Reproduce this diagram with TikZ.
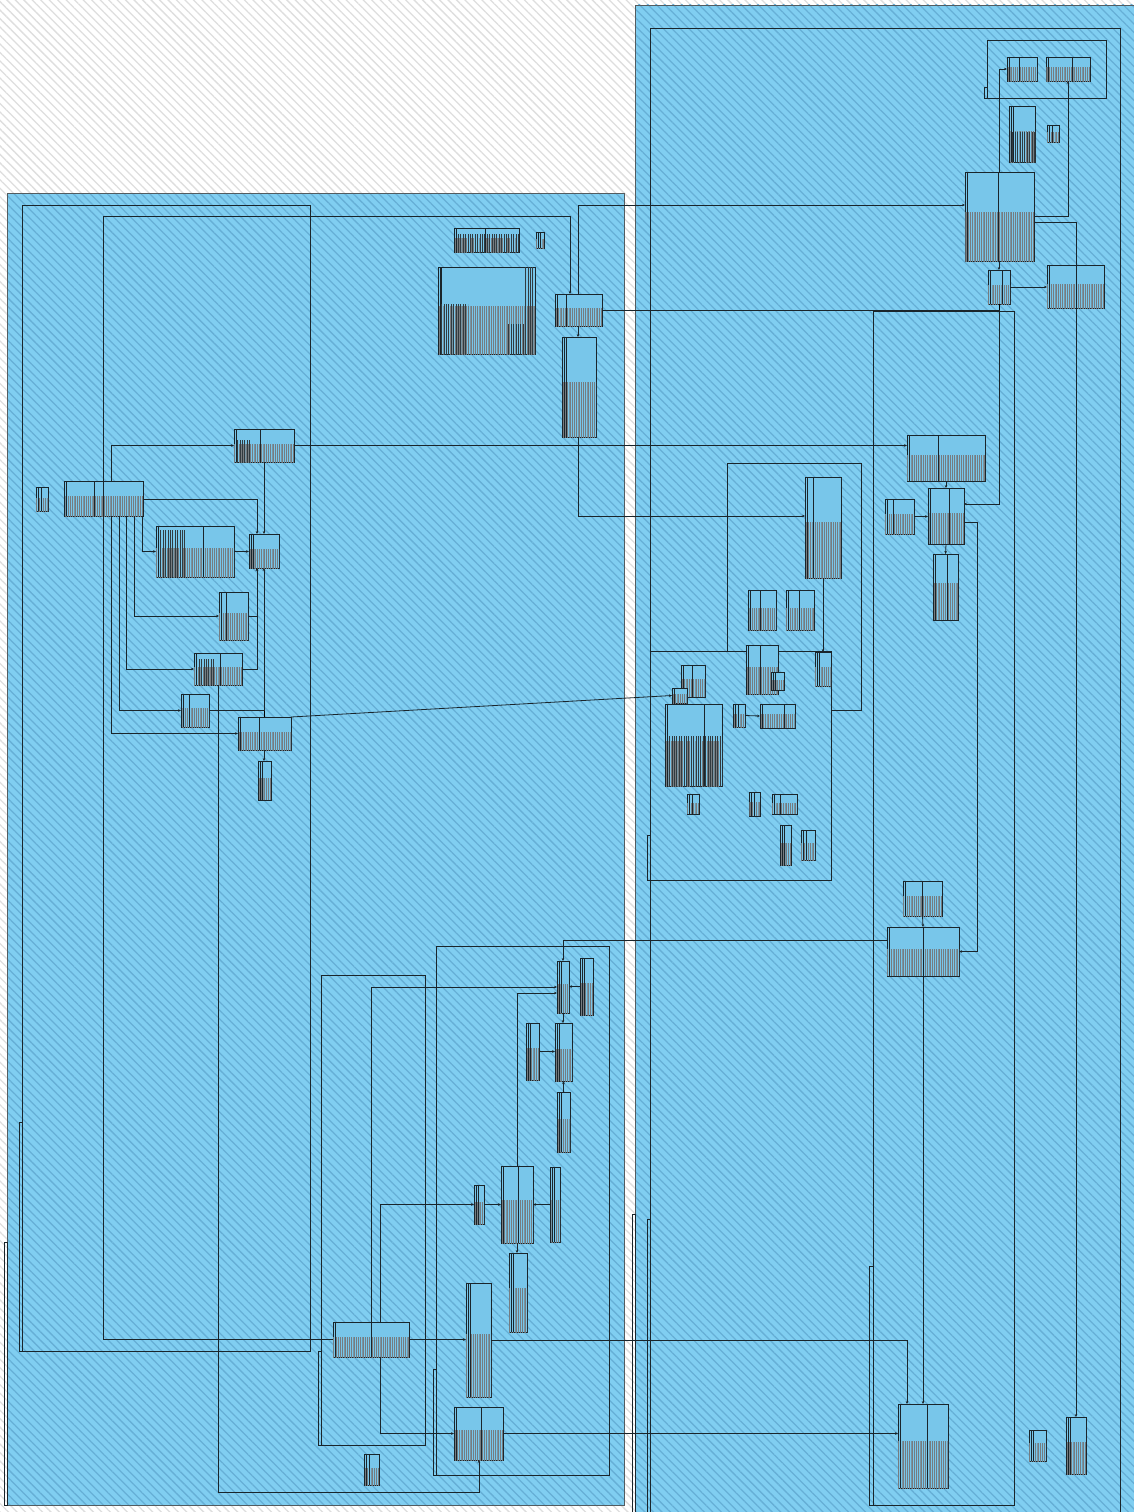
\documentclass[tikz,border=0pt]{standalone}
\usepackage{tikz}
\usetikzlibrary{arrows.meta,calc,patterns.meta}
\definecolor{panelMavi}{HTML}{80CEF1}
\definecolor{taramaMavi}{HTML}{66AFD6}
\definecolor{taramaGri}{HTML}{DEDEDE}
\definecolor{tabloMavi}{HTML}{78C6EA}
\definecolor{cizgi}{HTML}{1A252B}

\tikzset{
  tbl/.style={draw=cizgi, line width=0.9pt, fill=tabloMavi, inner sep=0pt, outer sep=0pt, anchor=north west},
  tblyazi/.style={pattern={Lines[angle=90,distance=1.8pt,line width=0.45pt]}, pattern color=cizgi!60},
  yogun/.style={pattern={Lines[angle=90,distance=2.4pt,line width=0.9pt]}, pattern color=cizgi!90},
  grp/.style={draw=cizgi, line width=0.8pt},
  fk/.style={draw=cizgi, line width=0.8pt, -{Stealth[length=3pt,width=2.6pt]}},
  tarama/.style={pattern={Lines[angle=-45,distance=6pt,line width=1.3pt]}},
}

% tablo: ad, x, y, genislik, yukseklik, bolme
\newcommand{\tablo}[6]{%
  \node[tbl, minimum width=#4pt, minimum height=#5pt] (#1) at (#2,#3) {};
  \fill[tblyazi] ($(#1.south west)!0.55!(#1.north west)$) rectangle (#1.south east);
  \draw[cizgi, line width=0.6pt] ($(#1.north west)+(2.5,0)$) -- ($(#1.south west)+(2.5,0)$);
  \draw[cizgi, line width=0.8pt] ($(#1.north west)+(#6,0)$) -- ($(#1.south west)+(#6,0)$);
}

\begin{document}
\begin{tikzpicture}[x=1pt,y=-1pt]
\useasboundingbox (0,0) rectangle (1133,1512);
% zemin
\fill[white] (0,0) rectangle (1133,1512);
\fill[tarama, pattern color=taramaGri] (0,0) rectangle (1133,1512);
% paneller
\fill[panelMavi] (7,193) rectangle (624,1505);
\fill[tarama, pattern color=taramaMavi] (7,193) rectangle (624,1505);
\draw[grp, draw=cizgi!75] (7,193) rectangle (624,1505);
\fill[panelMavi] (635,5) rectangle (1140,1520);
\fill[tarama, pattern color=taramaMavi] (635,5) rectangle (1140,1520);
\draw[grp, draw=cizgi!75] (635,5) rectangle (1140,1520);

% gruplar
\draw[grp] (22,205) rectangle (310,1351);
\draw[grp] (19,1122) rectangle (22,1351);
\draw[grp] (4,1242) rectangle (7,1505);
\draw[grp] (436,946) rectangle (609,1475);
\draw[grp] (433,1369) rectangle (436,1475);
\draw[grp] (321,975) rectangle (425,1445);
\draw[grp] (318,1351) rectangle (321,1445);
\draw[grp] (650,28) rectangle (1120,1520);
\draw[grp] (632,1214) rectangle (635,1520);
\draw[grp] (647,1219) rectangle (650,1520);
\draw[grp] (873,311) rectangle (1014,1505);
\draw[grp] (869,1266) rectangle (873,1505);
\draw[grp] (727,651) |- (861,463) |- (831,710);
\draw[grp] (650,651) rectangle (831,880);
\draw[grp] (647,835) rectangle (650,880);
\draw[grp] (987,40) rectangle (1106,98);
\draw[grp] (984,87) rectangle (987,98);

% tablolar
\foreach \n/\x/\y/\w/\h/\d in {
  A/36/487/12/24/5, B/64/481/79/35/30, C/234/429/60/33/26, D/156/526/78/51/47,
  E/249/534/30/34/4, F/219/592/29/48/7, G/194/653/48/32/26, H/181/694/28/33/8,
  I/238/717/53/33/21, J/258/761/13/39/4,
  T1/454/228/65/24/31, T2/536/232/8/16/4, T3/438/267/97/87/3, T4/555/294/47/32/11,
  T5/562/337/34/100/4,
  Q1/1007/57/30/24/12, Q2/1046/57/44/24/26, Q3/1009/106/26/56/4, Q4/1047/125/12/17/5,
  RT/965/172/69/89/33, R2/988/270/22/34/14, R3/1047/265/57/43/29,
  RE1/907/435/78/46/31, RE2/928/488/36/56/21, RE3/885/499/29/35/8, RE4/933/554/25/66/14,
  RB0/903/881/39/35/19, RB/887/927/72/49/36, RBB/898/1404/50/84/29,
  RS/1029/1430/17/31/4, RX/1066/1417/20/57/4,
  M1/805/477/36/101/8, M3/748/590/28/40/12, M4/786/590/28/40/13, M5/746/645/32/49/14,
  M5b/771/672/13/18/4, M6/815/652/16/34/4, M7/681/665/24/32/11, Mq/672/688/15/15/0,
  M8/665/704/57/82/39, M9/733/704/12/23/5, M10/760/704/35/24/24, M11/687/794/12/20/5,
  M12/749/792/11/24/5, M13/772/794/25/20/8, M14/780/825/11/40/4, M15/801/830/14/30/5,
  LR1/557/961/12/52/4, LR2/580/958/13/57/4, LR3/555/1023/17/58/4, LR4/526/1023/13/57/4,
  LR5/557/1092/13/60/4, L6/501/1166/32/77/17, L7/474/1185/10/39/4, L8/550/1167/10/75/4,
  L9/509/1253/18/79/4, L3/466/1283/25/114/4, L1/333/1322/76/35/38, L4/454/1407/49/53/27,
  L10/364/1454/15/31/5}
  \tablo{\n}{\x}{\y}{\w}{\h}{\d};

% yogun tablolar
\fill[yogun] ($(T1.north west)+(3,6)$) rectangle (T1.south east);
\fill[yogun] ($(T3.south west)+(3,-50)$) rectangle ($(T3.south west)+(30,0)$);
\fill[yogun] ($(T3.south west)+(70,-30)$) rectangle ($(T3.south west)+(97,0)$);
\fill[yogun] ($(T3.north east)+(-10,0)$) rectangle (T3.south east);
\fill[yogun] ($(D.north west)+(3,4)$) rectangle ($(D.south west)+(30,0)$);
\fill[yogun] ($(M8.south west)+(3,-50)$) rectangle ($(M8.south west)+(57,0)$);
\fill[yogun] ($(C.south west)+(3,-22)$) rectangle ($(C.south west)+(16,0)$);
\fill[yogun] ($(G.south west)+(3,-26)$) rectangle ($(G.south west)+(20,0)$);
\fill[yogun] ($(Q3.south west)+(3,-30)$) rectangle (Q3.south east);

% sol ust baglantilar
\draw[fk] (B.north -| 111,0) |- (C.west);
\draw[fk] (C.east) -- (C.east -| RE1.west);
\draw[fk] (B.east |- 0,499) -| (E.north -| 257,0);
\draw[fk] (D.east) -- (D.east -| E.west);
\draw[fk] (B.south -| 142,0) |- (D.west);
\draw[fk] (B.south -| 134,0) |- (F.west);
\draw[fk] (B.south -| 126,0) |- (G.west);
\draw[fk] (B.south -| 119,0) |- (H.west);
\draw[fk] (B.south -| 111,0) |- (I.west);
\draw[fk] (F.east) -| (E.south -| 257,0);
\draw[fk] (G.east) -| (E.south -| 257,0);
\draw[fk] (C.south -| 264,0) -- (E.north -| 264,0);
\draw[fk] (H.east) -| (E.south -| 264,0);
\draw (I.north -| 264,0) -- (H.east -| 264,0);
\draw[fk] (I.south -| 264,0) -- (J.north -| 264,0);
\draw[fk] (G.south -| 218,0) -- (218,1492) -| (L4.south -| 479,0);
\draw[fk] (I.north east) -- (Mq.west);

% ust baglantilar
\draw[fk] (L1.west) -| (103,216) -| (T4.north -| 570,0);
\draw[fk] (T4.north -| 578,0) |- (RT.west |- 0,205);
\draw[fk] (T4.south -| 578,0) -- (T5.north -| 578,0);
\draw[fk] (T5.south -| 578,0) |- (M1.west |- 0,516);
\draw[fk] (T4.east) -- (999,310) -- (999,504) -- (RE2.east |- 0,504);
\draw (R2.south) -- (R2.south |- T4.east);
\draw[fk] (RT.north -| 999,0) |- (Q1.west);
\draw[fk] (RT.east |- 0,216) -| (Q2.south -| 1068,0);
\draw[fk] (RT.east |- 0,222) -| (RX.north);
\draw[fk] (RT.south -| R2.north) -- (R2.north);
\draw[fk] (R2.east) -- (R2.east -| R3.west);

% sag orta
\draw[fk] (RE1.south -| RE2.north) -- (RE2.north);
\draw[fk] (RE3.east) -- (RE3.east -| RE2.west);
\draw[fk] (RE2.south) -- (RE4.north);
\draw[fk] (RE2.east |- 0,522) -- (977,522) |- (RB.east);
\draw[fk] (RB0.south) -- (RB.north);
\draw[fk] (RB.west |- 0,940) -| (LR1.north);
\draw[fk] (RB.south) -- (RBB.north);
\draw[fk] (L3.east) -| (RBB.north -| 907,0);
\draw[fk] (L4.east) -- (L4.east -| RBB.west);
\draw[fk] (M1.south) -- (M6.north);
\draw[fk] (M9.east) -- (M10.west);

% sol alt
\draw[fk] (L1.east) -- (L1.east -| L3.west);
\draw[fk] (L1.north -| 371,0) |- (LR1.west);
\draw[fk] (L6.north) |- (LR1.west |- 0,993);
\draw[fk] (LR2.west) -- (LR2.west -| LR1.east);
\draw[fk] (LR1.south) -- (LR1.south |- LR3.north);
\draw[fk] (LR4.east) -- (LR4.east -| LR3.west);
\draw[fk] (LR5.north) -- (LR5.north |- LR3.south);
\draw[fk] (L7.east) -- (L7.east -| L6.west);
\draw[fk] (L8.west) -- (L8.west -| L6.east);
\draw[fk] (L1.north -| 380,0) |- (L7.west);
\draw[fk] (L1.south -| 380,0) |- (L4.west);
\draw[fk] (L6.south) -- (L6.south |- L9.north);
\end{tikzpicture}
\end{document}
